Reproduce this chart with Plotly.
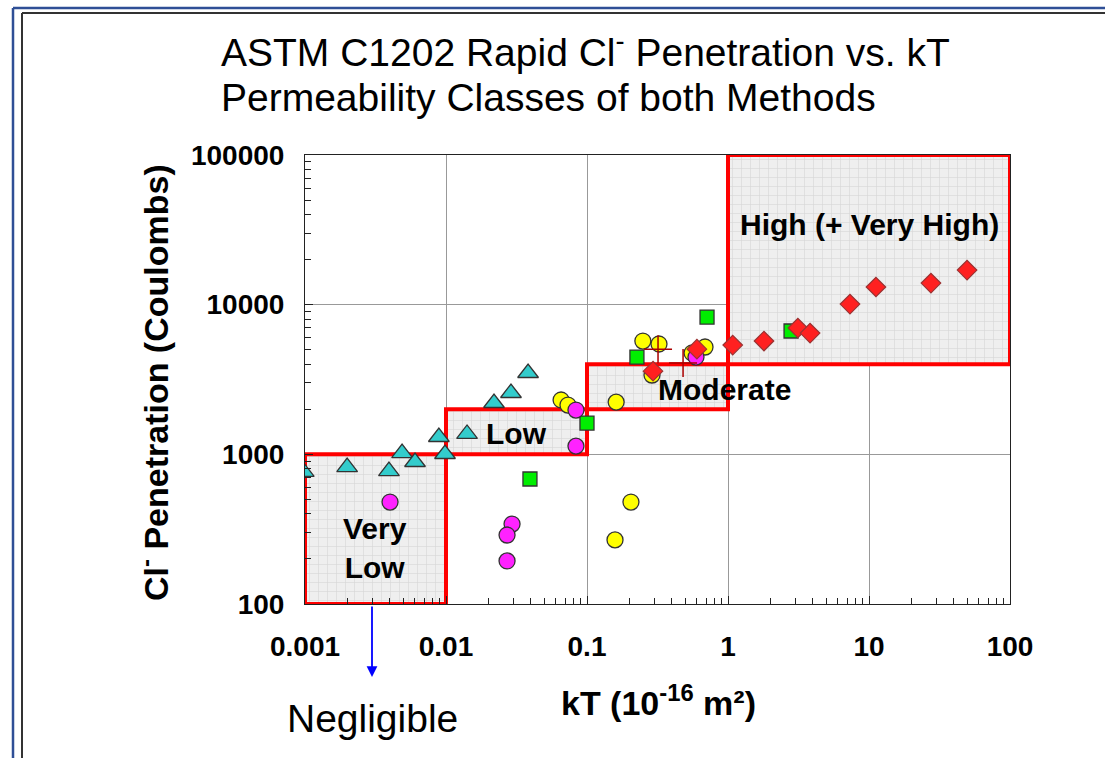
import plotly.graph_objects as go

# ---------------- data ----------------
# permeability class boxes: (name, kT_min, kT_max, C_min, C_max)
class_names = ["Very Low", "Low", "Moderate", "High (+ Very High)"]
class_kt_lo = [0.001, 0.01, 0.1, 1]
class_kt_hi = [0.01, 0.1, 1, 100]
class_c_lo = [100, 1000, 2000, 4000]
class_c_hi = [1000, 2000, 4000, 100000]
class_labels = ["Very<br>Low", "Low", "Moderate", "High (+ Very High)"]

tri_kt = [0.00098, 0.00199, 0.00394, 0.00488, 0.00603, 0.0089, 0.00984, 0.0141, 0.0219, 0.0289, 0.0382]
tri_c = [763, 822, 773, 1020, 889, 1306, 1005, 1368, 2203, 2570, 3494]

mag_kt = [0.00401, 0.0294, 0.0271, 0.0271, 0.0835, 0.0835, 0.593]
mag_c = [480, 342, 289, 194, 1977, 1135, 4466]

yel_kt = [0.0655, 0.0733, 0.161, 0.205, 0.158, 0.249, 0.324, 0.687, 0.556, 0.289]
yel_c = [2307, 2134, 2234, 480, 268, 5715, 5460, 5213, 4754, 3388]

grn_kt = [0.0394, 0.1, 0.226, 0.710, 2.80]
grn_c = [684, 1618, 4466, 8260, 6670]

red_kt = [0.294, 0.602, 1.08, 1.80, 3.13, 3.82, 7.33, 11.2, 27.5, 49.6]
red_c = [3597, 5045, 5370, 5715, 6985, 6460, 10090, 13120, 13940, 17030]

crs_kt = [0.319, 0.480]
crs_c = [5045, 4074]

x_ticks = [0.001, 0.01, 0.1, 1, 10, 100]
x_ticktext = ["0.001", "0.01", "0.1", "1", "10", "100"]
y_ticks = [100, 1000, 10000, 100000]
y_ticktext = ["100", "1000", "10000", "100000"]

x_minor = [m * 10.0 ** e for e in range(-3, 2) for m in range(2, 10)]
y_minor = [m * 10.0 ** e for e in range(2, 5) for m in range(2, 10)]

# ---------------- figure ----------------
FONT = "Liberation Sans, Arial, sans-serif"
fig = go.Figure()

for i in range(len(class_names)):
    x0, x1 = class_kt_lo[i], class_kt_hi[i]
    y0, y1 = class_c_lo[i], class_c_hi[i]
    fig.add_trace(go.Scatter(
        x=[x0, x1, x1, x0, x0], y=[y0, y0, y1, y1, y0],
        mode="lines", fill="toself",
        fillcolor="#eeeeee",
        fillpattern=dict(shape="+", size=9, solidity=0.12, fgcolor="#bcbcbc", bgcolor="#efefef"),
        line=dict(color="#ff0000", width=4),
        hoverinfo="skip", showlegend=False, name=class_names[i]))

mk_line = dict(color="#333333", width=1.3)
fig.add_trace(go.Scatter(x=tri_kt, y=tri_c, mode="markers", showlegend=False,
                         marker=dict(symbol="triangle-up", size=18, color="#33cccc", line=mk_line)))
fig.add_trace(go.Scatter(x=grn_kt, y=grn_c, mode="markers", showlegend=False,
                         marker=dict(symbol="square", size=14, color="#00ee00", line=mk_line)))
fig.add_trace(go.Scatter(x=yel_kt, y=yel_c, mode="markers", showlegend=False,
                         marker=dict(symbol="circle", size=16, color="#ffff00", line=mk_line)))
fig.add_trace(go.Scatter(x=mag_kt, y=mag_c, mode="markers", showlegend=False,
                         marker=dict(symbol="circle", size=16, color="#ff22ff", line=mk_line)))
fig.add_trace(go.Scatter(x=red_kt, y=red_c, mode="markers", showlegend=False,
                         marker=dict(symbol="diamond", size=15, color="#ff2020",
                                     line=dict(color="#993333", width=1.2))))
fig.add_trace(go.Scatter(x=crs_kt, y=crs_c, mode="markers", showlegend=False,
                         marker=dict(symbol="cross-thin", size=20,
                                     line=dict(color="#aa0000", width=1.5))))

axis_common = dict(
    type="log", showline=True, linecolor="#222222", linewidth=1, mirror=True,
    showgrid=True, gridcolor="#999999", gridwidth=1,
    ticks="inside", ticklen=8, tickcolor="#222222",
    zeroline=False,
)
fig.update_xaxes(**axis_common, range=[-3, 2], tickvals=x_ticks, ticktext=x_ticktext,
                 minor=dict(tickmode="array", tickvals=x_minor, ticks="inside", ticklen=6,
                            tickcolor="#222222", showgrid=False),
                 tickfont=dict(family=FONT, size=28, color="black", weight="bold"),
                 ticklabelstandoff=17)
fig.update_yaxes(**axis_common, range=[2, 5], tickvals=y_ticks, ticktext=y_ticktext,
                 minor=dict(tickmode="array", tickvals=y_minor, ticks="inside", ticklen=6,
                            tickcolor="#222222", showgrid=False),
                 tickfont=dict(family=FONT, size=28, color="black", weight="bold"),
                 ticklabelstandoff=14)

W, H = 1105, 758
L, R, T, B = 305, 95, 155, 154
pw, ph = W - L - R, H - T - B


def px(x):
    return (x - L) / pw


def py(y):
    return (H - B - y) / ph


ann = []
# title
ann.append(dict(x=px(219), y=py(50), xref="paper", yref="paper", xanchor="left", yanchor="middle",
                text="ASTM C1202 Rapid Cl<sup>-</sup> Penetration vs. kT", showarrow=False,
                font=dict(family=FONT, size=39, color="black")))
ann.append(dict(x=px(219), y=py(97), xref="paper", yref="paper", xanchor="left", yanchor="middle",
                text="Permeability Classes of both Methods", showarrow=False,
                font=dict(family=FONT, size=39, color="black")))
# axis titles
ann.append(dict(x=px(658), y=py(700), xref="paper", yref="paper", xanchor="center", yanchor="middle",
                text="kT (10<sup>-16</sup> m²)", showarrow=False,
                font=dict(family=FONT, size=34, color="black", weight="bold")))
ann.append(dict(x=px(153), y=py(383), xref="paper", yref="paper", xanchor="center", yanchor="middle",
                text="Cl<sup>-</sup> Penetration (Coulombs)", showarrow=False, textangle=-90,
                font=dict(family=FONT, size=34, color="black", weight="bold")))
# class labels
lab_pos = [(375, 548), (516, 433), (724, 389), (869, 224)]
for (lx, ly), t in zip(lab_pos, class_labels):
    ann.append(dict(x=px(lx), y=py(ly), xref="paper", yref="paper", xanchor="center", yanchor="middle",
                    text=t, showarrow=False,
                    font=dict(family=FONT, size=30, color="black", weight="bold")))
# negligible
ann.append(dict(x=px(372), y=py(718), xref="paper", yref="paper", xanchor="center", yanchor="middle",
                text="Negligible", showarrow=False, font=dict(family=FONT, size=39, color="black")))
ann.append(dict(x=px(372), y=py(677), xref="paper", yref="paper", text="", showarrow=True,
                axref="pixel", ayref="pixel", ax=0, ay=-72, arrowhead=2, arrowsize=1.2,
                arrowwidth=1.8, arrowcolor="#0000ff"))

shapes = [
    dict(type="line", xref="paper", yref="paper", x0=px(13), x1=px(1110), y0=py(8), y1=py(8),
         line=dict(color="#2f4f96", width=2.5)),
    dict(type="line", xref="paper", yref="paper", x0=px(13), x1=px(13), y0=py(8), y1=py(770),
         line=dict(color="#2f4f96", width=2.5)),
    dict(type="line", xref="paper", yref="paper", x0=px(22), x1=px(1110), y0=py(13), y1=py(13),
         line=dict(color="#333333", width=2)),
    dict(type="line", xref="paper", yref="paper", x0=px(22), x1=px(22), y0=py(13), y1=py(770),
         line=dict(color="#333333", width=2)),
]

fig.update_layout(
    width=W, height=H, margin=dict(l=L, r=R, t=T, b=B, autoexpand=False),
    paper_bgcolor="white", plot_bgcolor="white",
    annotations=ann, shapes=shapes, showlegend=False,
)

fig.write_html("out.html", config={"displayModeBar": False},
               post_script="document.body.style.margin='0px';")
